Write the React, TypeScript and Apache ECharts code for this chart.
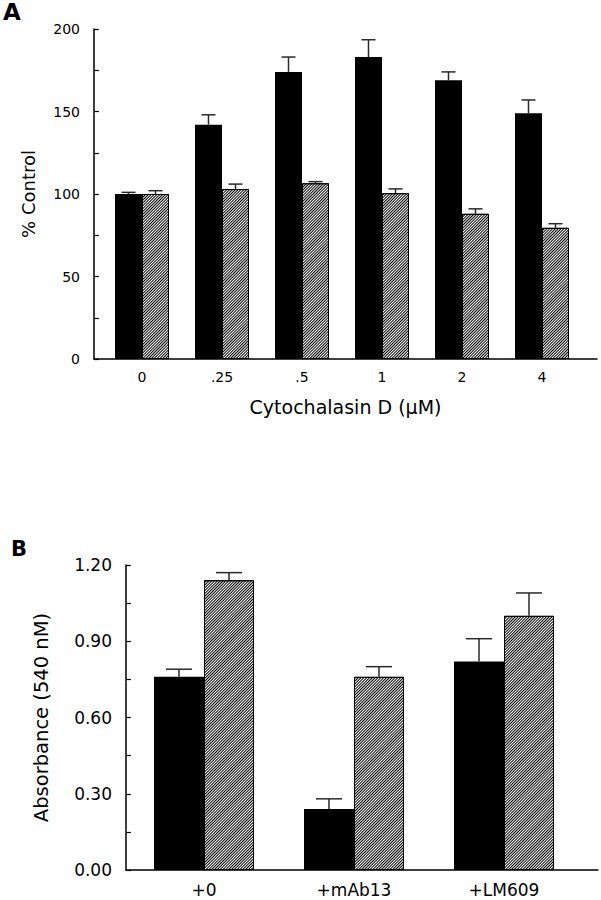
import React, { useEffect, useRef } from "react";
import * as echarts from "echarts";

const catsA = ["0", ".25", ".5", "1", "2", "4"];
const blackA = [100, 142, 174, 183, 169, 149];
const blackErrA = [1, 6, 9, 10.5, 5, 8];
const hatchA = [100, 103, 106.5, 100.5, 88, 79.5];
const hatchErrA = [2, 3, 1, 2.6, 3, 2.5];

const catsB = ["+0", "+mAb13", "+LM609"];
const blackB = [0.76, 0.24, 0.82];
const blackErrB = [0.03, 0.04, 0.09];
const hatchB = [1.14, 0.76, 1.0];
const hatchErrB = [0.03, 0.04, 0.09];

const FONT = "DejaVu Sans";

const hatchDecal = {
  symbol: "rect",
  symbolSize: 1,
  dashArrayX: [1, 0],
  dashArrayY: [1, 1],
  rotation: -Math.PI / 4,
  color: "#000",
};

function errRender(side: number, barW: number) {
  return (params: any, api: any) => {
    const i = api.value(0);
    const v = api.value(1);
    const e = api.value(2);
    const base = api.coord([i, v]);
    const top = api.coord([i, v + e]);
    const x = base[0] + (side * barW) / 2;
    const cap = barW * 0.52;
    const st = { stroke: "#2a2a2a", lineWidth: 1.5 };
    return {
      type: "group",
      children: [
        { type: "line", shape: { x1: x, y1: base[1], x2: x, y2: top[1] }, style: st },
        { type: "line", shape: { x1: x - cap / 2, y1: top[1], x2: x + cap / 2, y2: top[1] }, style: st },
      ],
    };
  };
}

export default function App() {
  const ref = useRef<HTMLDivElement>(null);
  useEffect(() => {
    const chart = echarts.init(ref.current!, null, { renderer: "svg" });
    const barWA = 27;
    const barWB = 50;
    const axisLine = { show: true, lineStyle: { color: "#000", width: 1.5 } };
    const option: any = {
      animation: false,
      backgroundColor: "#fff",
      textStyle: { fontFamily: FONT, color: "#000" },
      grid: [
        { left: 102, width: 480, top: 29, height: 330 },
        { left: 94, width: 503, top: 29, height: 330 },
        { left: 129, width: 450, top: 565, height: 305 },
        { left: 126, width: 472, top: 565, height: 305 },
      ],
      xAxis: [
        {
          gridIndex: 0,
          type: "category",
          data: catsA,
          axisLine: { show: false },
          axisTick: { show: false },
          axisLabel: { fontFamily: FONT, fontSize: 14, color: "#000", margin: 11 },
        },
        {
          gridIndex: 1,
          type: "value",
          min: 0,
          max: 1,
          axisLine,
          axisTick: { show: false },
          axisLabel: { show: false },
          splitLine: { show: false },
          name: "Cytochalasin D (μM)",
          nameLocation: "middle",
          nameGap: 38,
          nameTextStyle: { fontFamily: FONT, fontSize: 19, color: "#000" },
        },
        {
          gridIndex: 2,
          type: "category",
          data: catsB,
          axisLine: { show: false },
          axisTick: { show: false },
          axisLabel: { fontFamily: FONT, fontSize: 17, color: "#000", margin: 11 },
        },
        {
          gridIndex: 3,
          type: "value",
          min: 0,
          max: 1,
          axisLine,
          axisTick: { show: false },
          axisLabel: { show: false },
          splitLine: { show: false },
        },
      ],
      yAxis: [
        { gridIndex: 0, type: "value", min: 0, max: 200, show: false, splitLine: { show: false } },
        {
          gridIndex: 1,
          type: "value",
          min: 0,
          max: 200,
          interval: 25,
          axisLine,
          axisTick: { show: true, inside: true, length: 5, lineStyle: { color: "#000", width: 1.2 } },
          axisLabel: {
            fontFamily: FONT,
            fontSize: 14,
            color: "#000",
            margin: 14,
            formatter: (v: number) => (v % 50 === 0 ? String(v) : ""),
          },
          splitLine: { show: false },
          name: "% Control",
          nameLocation: "middle",
          nameGap: 57,
          nameTextStyle: { fontFamily: FONT, fontSize: 18, color: "#000" },
        },
        { gridIndex: 2, type: "value", min: 0, max: 1.2, show: false, splitLine: { show: false } },
        {
          gridIndex: 3,
          type: "value",
          min: 0,
          max: 1.2,
          interval: 0.15,
          axisLine,
          axisTick: { show: true, inside: true, length: 5, lineStyle: { color: "#000", width: 1.2 } },
          axisLabel: {
            fontFamily: FONT,
            fontSize: 17,
            color: "#000",
            margin: 14,
            formatter: (v: number) => (Math.round(v / 0.15) % 2 === 0 ? v.toFixed(2) : ""),
          },
          splitLine: { show: false },
          name: "Absorbance (540 nM)",
          nameLocation: "middle",
          nameGap: 75,
          nameTextStyle: { fontFamily: FONT, fontSize: 19.5, color: "#000" },
        },
      ],
      series: [
        {
          type: "bar",
          xAxisIndex: 0,
          yAxisIndex: 0,
          data: blackA,
          barWidth: barWA,
          barGap: "0%",
          itemStyle: { color: "#000" },
        },
        {
          type: "bar",
          xAxisIndex: 0,
          yAxisIndex: 0,
          data: hatchA,
          barWidth: barWA,
          barGap: "0%",
          itemStyle: { color: "#fff", borderColor: "#000", borderWidth: 1, decal: hatchDecal },
        },
        {
          type: "custom",
          xAxisIndex: 0,
          yAxisIndex: 0,
          data: catsA.map((_, i) => [i, blackA[i], blackErrA[i]]),
          renderItem: errRender(-1, barWA),
          z: 5,
        },
        {
          type: "custom",
          xAxisIndex: 0,
          yAxisIndex: 0,
          data: catsA.map((_, i) => [i, hatchA[i], hatchErrA[i]]),
          renderItem: errRender(1, barWA),
          z: 5,
        },
        {
          type: "bar",
          xAxisIndex: 2,
          yAxisIndex: 2,
          data: blackB,
          barWidth: barWB,
          barGap: "0%",
          itemStyle: { color: "#000" },
        },
        {
          type: "bar",
          xAxisIndex: 2,
          yAxisIndex: 2,
          data: hatchB,
          barWidth: barWB,
          barGap: "0%",
          itemStyle: { color: "#fff", borderColor: "#000", borderWidth: 1, decal: hatchDecal },
        },
        {
          type: "custom",
          xAxisIndex: 2,
          yAxisIndex: 2,
          data: catsB.map((_, i) => [i, blackB[i], blackErrB[i]]),
          renderItem: errRender(-1, barWB),
          z: 5,
        },
        {
          type: "custom",
          xAxisIndex: 2,
          yAxisIndex: 2,
          data: catsB.map((_, i) => [i, hatchB[i], hatchErrB[i]]),
          renderItem: errRender(1, barWB),
          z: 5,
        },
      ],
      graphic: [
        {
          type: "text",
          x: 3,
          y: 12,
          style: { text: "A", font: `bold 23px '${FONT}'`, fill: "#000", align: "left", verticalAlign: "middle" },
        },
        {
          type: "text",
          x: 11,
          y: 549,
          style: { text: "B", font: `bold 21px '${FONT}'`, fill: "#000", align: "left", verticalAlign: "middle" },
        },
      ],
    };
    chart.setOption(option);
    return () => chart.dispose();
  }, []);
  return (
    <div
      ref={ref}
      style={{ position: "fixed", left: 0, top: 0, width: 601, height: 900, background: "#fff" }}
    />
  );
}
